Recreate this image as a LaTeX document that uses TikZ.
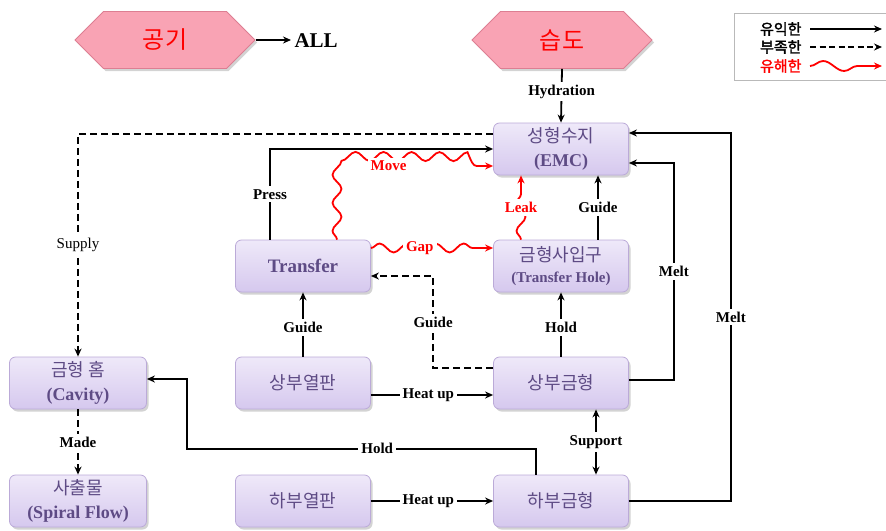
\documentclass[tikz,border=0pt]{standalone}
\usepackage{fontspec}
\setmainfont{Liberation Serif}
\newfontfamily\kr{Noto Sans CJK KR}
\newfontfamily\krb[FakeBold=2]{Noto Sans CJK KR}
\usetikzlibrary{arrows.meta,shapes.symbols,shadows,decorations.pathmorphing,calc}
\definecolor{boxtxt}{HTML}{5E4B85}
\definecolor{boxtop}{HTML}{EFE9F9}
\definecolor{boxbot}{HTML}{D5C8EE}
\definecolor{boxedge}{HTML}{BBAAD8}
\definecolor{hexfill}{HTML}{F9A3B4}
\definecolor{hexedge}{HTML}{DD7E92}
\definecolor{harmred}{HTML}{FF0000}
\newcommand\ko[1]{{\kr\mdseries #1}}
\begin{document}
\begin{tikzpicture}[x=1pt,y=-1pt,
  box/.style={draw=boxedge, line width=0.8pt, rounded corners=6pt,
    top color=boxtop, bottom color=boxbot, minimum width=135pt,
    minimum height=52pt, align=center, text=boxtxt,
    font=\fontsize{18}{24}\selectfont\bfseries,
    drop shadow={shadow xshift=2pt, shadow yshift=-2.5pt, opacity=0.35}},
  hexa/.style={signal, signal to=east and west, signal pointer angle=90,
    draw=hexedge, line width=0.8pt, fill=hexfill, minimum width=180pt,
    minimum height=57pt, text=harmred, font=\kr\fontsize{24}{26}\selectfont,
    drop shadow={shadow xshift=2pt, shadow yshift=-2.5pt, opacity=0.35}},
  good/.style={line width=1.8pt, -{Stealth[length=8pt,width=7pt]}},
  lack/.style={good, dash pattern=on 7pt off 4pt},
  harm/.style={line width=1.8pt, draw=harmred, -{Stealth[length=8pt,width=7pt]},
    decorate, decoration={snake, amplitude=4.5pt, segment length=28pt, post length=8pt}},
  lab/.style={fill=white, inner sep=3pt, font=\fontsize{15}{17}\selectfont\bfseries},
  hlab/.style={lab, text=harmred},
  legtxt/.style={anchor=east, font=\krb\fontsize{15}{15}\selectfont},
]
\useasboundingbox (0,0) rectangle (886,530);

% hexagons
\node[hexa] (air) at (165,40) {공기};
\node[font=\fontsize{21}{22}\selectfont\bfseries, anchor=west] (all) at (291,41) {ALL};
\node[hexa] (hum) at (562,40) {습도};

% boxes
\node[box] (emc) at (561,149) {\ko{성형수지}\\(EMC)};
\node[box, font=\fontsize{19}{24}\selectfont\bfseries] (tr) at (303,266) {Transfer};
\node[box] (hole) at (561,266) {\ko{금형사입구}\\[-3pt]{\fontsize{15}{15}\selectfont (Transfer Hole)}};
\node[box, minimum width=137pt] (cav) at (78,383) {\ko{금형 홈}\\(Cavity)};
\node[box] (upl) at (303,383) {\ko{상부열판}};
\node[box] (upm) at (561,383) {\ko{상부금형}};
\node[box, minimum width=137pt] (spf) at (78,501) {\ko{사출물}\\(Spiral Flow)};
\node[box] (lpl) at (303,501) {\ko{하부열판}};
\node[box] (lpm) at (561,501) {\ko{하부금형}};

% connectors
\draw[good] (air.east) -- (air.east -| all.west);
\draw[good] (hum.south) -- node[lab, pos=0.42]{Hydration} (emc.north);
\draw[lack] ($(emc.west)+(0,-15)$) -| node[lab, pos=0.75, font=\fontsize{15}{17}\selectfont]{Supply} (cav.north);
\draw[good] ($(tr.north)+(-33,0)$) |- node[lab, pos=0.25]{Press} (emc.west);
\draw[harm] ($(tr.north)+(34,0)$) -- ++(0,-74) -- node[hlab, pos=0.33]{Move} ($(emc.west)+(0,17)$);
\draw[harm] ($(tr.east)+(0,-18)$) -- node[hlab, pos=0.4]{Gap} ($(hole.west)+(0,-18)$);
\draw[harm] ($(hole.north)+(-40,0)$) -- node[hlab]{Leak} ($(emc.south)+(-40,0)$);
\draw[good] ($(hole.north)+(37,0)$) -- node[lab]{Guide} ($(emc.south)+(37,0)$);
\draw[good] ($(upm.east)+(0,-3)$) -- ++(45,0) |- node[lab, pos=0.25]{Melt} ($(emc.east)+(0,14)$);
\draw[good] (lpm.east) -- ++(102,0) |- node[lab, pos=0.25]{Melt} ($(emc.east)+(0,-16)$);
\draw[lack] ($(upm.west)+(0,-15)$) -- ++(-60,0) |- node[lab, pos=0.25]{Guide} ($(tr.east)+(0,10)$);
\draw[good] (upm.north) -- node[lab, pos=0.45]{Hold} (hole.south);
\draw[good] (upl.north) -- node[lab, pos=0.45]{Guide} (tr.south);
\draw[good] ($(upl.east)+(0,12)$) -- node[lab, pos=0.47]{Heat up} ($(upm.west)+(0,12)$);
\draw[good] (lpl.east) -- node[lab, pos=0.47]{Heat up} (lpm.west);
\draw[good, {Stealth[length=8pt,width=7pt]}-{Stealth[length=8pt,width=7pt]}] ($(upm.south)+(35,0)$) -- node[lab]{Support} ($(lpm.north)+(35,0)$);
\draw[good] ($(lpm.north)+(-25,0)$) -- ++(0,-26) -- node[lab, pos=0.455]{Hold} ++(-349,0) |- ($(cav.east)+(0,-4)$);
\draw[lack] (cav.south) -- node[lab]{Made} (spf.north);

% legend
\node[draw=gray!55, line width=0.8pt, minimum width=156pt, minimum height=67pt, anchor=north west] (legend) at (734,13) {};
\node[legtxt] (lg1) at (805,29) {유익한};
\node[legtxt] (lg2) at (805,47) {부족한};
\node[legtxt, text=harmred] (lg3) at (805,66) {유해한};
\coordinate (lg1e) at (882,29);
\coordinate (lg2e) at (882,47);
\coordinate (lg3e) at (882,66);
\draw[good] ($(lg1.east)+(5,0)$) -- (lg1e);
\draw[good, dash pattern=on 6pt off 3.5pt] ($(lg2.east)+(5,0)$) -- (lg2e);
\draw[harm, decoration={snake, amplitude=5pt, segment length=42pt, post length=8pt}] ($(lg3.east)+(5,0)$) -- (lg3e);
\end{tikzpicture}
\end{document}
